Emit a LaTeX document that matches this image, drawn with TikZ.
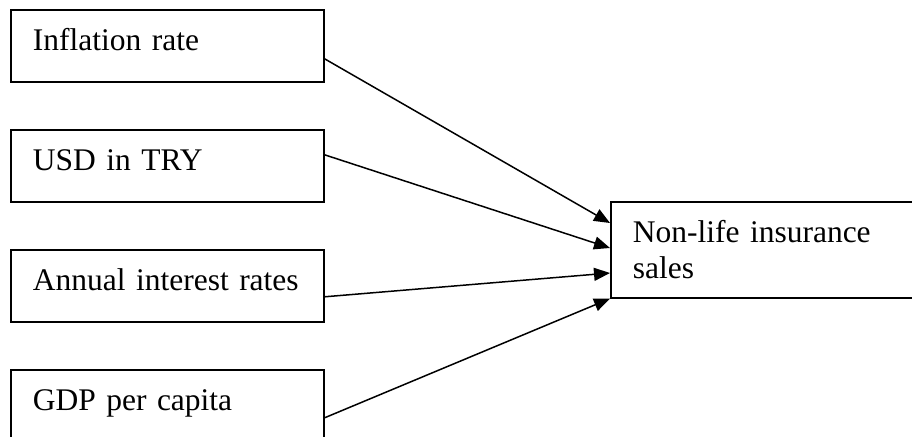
\documentclass[tikz,border=0pt]{standalone}
\usepackage{fontspec}
\setmainfont{Liberation Serif}
\usetikzlibrary{arrows.meta}
\begin{document}
\begin{tikzpicture}[x=1pt,y=-1pt,
  box/.style={draw=black, line width=1.6pt, anchor=north west, align=left,
    font=\fontsize{31.5}{36}\selectfont, text width=269pt, inner xsep=22pt,
    inner ysep=19pt, text height=22pt, text depth=12pt},
  conn/.style={line width=1.5pt, -{Triangle[length=16pt,width=13pt]}}]
\useasboundingbox (0,0) rectangle (912,436);
\clip (0,0) rectangle (912,436);
\fill[white] (0,0) rectangle (912,436);
\node[box] (inf) at (10,9) {Inflation rate};
\node[box] (usd) at (10,129) {USD in TRY};
\node[box] (ann) at (10,249) {\mbox{Annual interest rates}};
\node[box] (gdp) at (10,369) {GDP per capita};
\node[box, text depth=36pt] (ins) at (610,201) {Non-life insurance\\sales};
\draw[conn] ([yshift=-13pt]inf.east) -- ([yshift=-22pt]ins.north west);
\draw[conn] ([yshift=11pt]usd.east) -- ([yshift=-47pt]ins.north west);
\draw[conn] ([yshift=-11pt]ann.east) -- ([yshift=-72pt]ins.north west);
\draw[conn] ([yshift=-12pt]gdp.east) -- (ins.south west);
\end{tikzpicture}
\end{document}
